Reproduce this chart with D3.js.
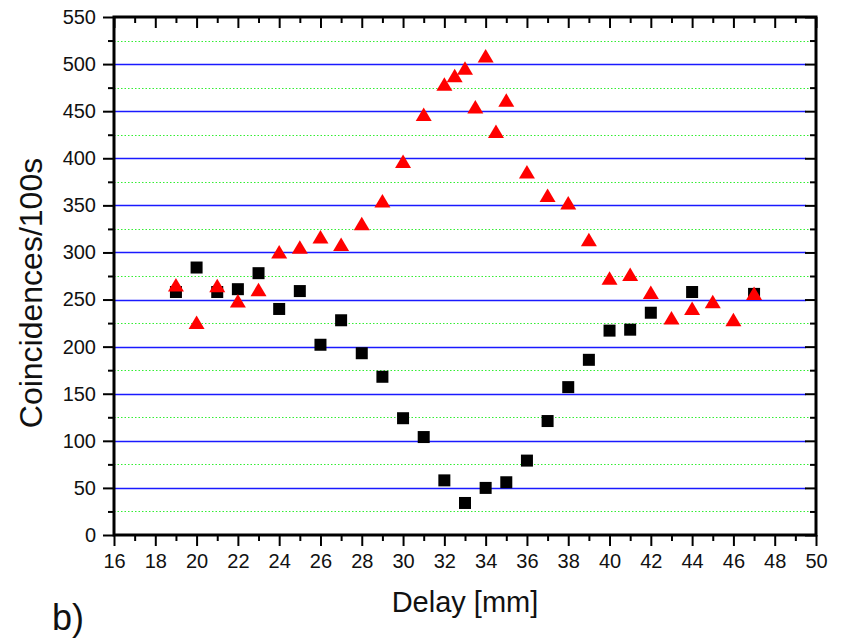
<!DOCTYPE html>
<html>
<head>
<meta charset="utf-8">
<script src="https://cdn.jsdelivr.net/npm/d3@7"></script>
<style>
  body { margin: 0; background: #fff; }
  text { font-family: "Liberation Sans", Arial, sans-serif; }
</style>
</head>
<body>
<div id="chart"></div>
<script>
// data
const squareDelay = [19, 20, 21, 22, 23, 24, 25, 26, 27, 28, 29, 30, 31, 32, 33, 34, 35, 36, 37, 38, 39, 40, 41, 42, 44, 47];
const squareCounts = [258, 284, 258, 261, 278, 240, 259, 202, 228, 193, 168, 124, 104, 58, 34, 50, 56, 79, 121, 157, 186, 217, 218, 236, 258, 256];

const triDelay = [19, 20, 21, 22, 23, 24, 25, 26, 27, 28, 29, 30, 31, 32, 32.5, 33, 33.5, 34, 34.5, 35, 36, 37, 38, 39, 40, 41, 42, 43, 44, 45, 46, 47];
const triCounts = [265, 225, 264, 248, 260, 300, 305, 316, 308, 330, 354, 396, 446, 478, 487, 495, 454, 508, 428, 461, 385, 360, 352, 313, 272, 276, 257, 230, 240, 247, 228, 256];

const xTicks = d3.range(16, 51, 2);
const yTicks = d3.range(0, 551, 50);

const width = 841, height = 639;
const margins = {l: 114, r: 25, t: 17, b: 104};
const w = width - margins.l - margins.r;
const h = height - margins.t - margins.b;

const xScale = d3.scaleLinear().domain([16, 50]).range([0, w]);
const yScale = d3.scaleLinear().domain([0, 550]).range([h, 0]);

const svg = d3.select("#chart").append("svg")
  .attr("width", width).attr("height", height);

const g = svg.append("g").attr("transform", `translate(${margins.l},${margins.t})`);

// grid lines
g.selectAll(".minor-grid").data(d3.range(25, 550, 50)).enter()
  .append("line")
  .attr("x1", 0).attr("x2", w - 6)
  .attr("y1", d => Math.round(yScale(d)) + 0.5).attr("y2", d => Math.round(yScale(d)) + 0.5)
  .attr("stroke", "#33ee33").attr("stroke-width", 1).attr("stroke-dasharray", "1.5,2");

g.selectAll(".major-grid").data(d3.range(50, 550, 50)).enter()
  .append("line")
  .attr("x1", 0).attr("x2", w - 10)
  .attr("y1", d => Math.round(yScale(d)) + 0.5).attr("y2", d => Math.round(yScale(d)) + 0.5)
  .attr("stroke", "#1a1aff").attr("stroke-width", 1.3);

// axes
const xMinor = d3.range(17, 50, 2);
const yMinor = d3.range(25, 550, 50);

function styleAxis(sel){
  sel.select(".domain").remove();
  sel.selectAll("line").attr("stroke", "#000").attr("stroke-width", 2);
  sel.selectAll("text").attr("font-size", "20px").attr("fill", "#111");
}

g.append("g").attr("transform", `translate(0,${h})`)
  .call(d3.axisBottom(xScale).tickValues(xTicks).tickSize(11).tickPadding(8).tickFormat(d3.format("d")))
  .call(styleAxis);
g.append("g").attr("transform", `translate(0,${h})`)
  .call(d3.axisBottom(xScale).tickValues(xMinor).tickSize(6).tickFormat(""))
  .call(styleAxis);

g.append("g")
  .call(d3.axisTop(xScale).tickValues(xTicks).tickSize(-11).tickFormat(""))
  .call(styleAxis);
g.append("g")
  .call(d3.axisTop(xScale).tickValues(xMinor).tickSize(-6).tickFormat(""))
  .call(styleAxis);

g.append("g")
  .call(d3.axisLeft(yScale).tickValues(yTicks).tickSize(11).tickPadding(7).tickFormat(d3.format("d")))
  .call(styleAxis);
g.append("g")
  .call(d3.axisLeft(yScale).tickValues(yMinor).tickSize(6).tickFormat(""))
  .call(styleAxis);

g.append("g").attr("transform", `translate(${w},0)`)
  .call(d3.axisRight(yScale).tickValues(yTicks).tickSize(-11).tickFormat(""))
  .call(styleAxis);
g.append("g").attr("transform", `translate(${w},0)`)
  .call(d3.axisRight(yScale).tickValues(yMinor).tickSize(-6).tickFormat(""))
  .call(styleAxis);

// frame
g.append("rect").attr("x", 0).attr("y", 0).attr("width", w).attr("height", h)
  .attr("fill", "none").attr("stroke", "#000").attr("stroke-width", 3);

// data points
const squares = squareDelay.map((d, i) => ({x: d, y: squareCounts[i]}));
const triangles = triDelay.map((d, i) => ({x: d, y: triCounts[i]}));

g.selectAll(".sq").data(squares).enter()
  .append("rect")
  .attr("x", d => xScale(d.x) - 6).attr("y", d => yScale(d.y) - 6)
  .attr("width", 12).attr("height", 12)
  .attr("fill", "#000");

g.selectAll(".tri").data(triangles).enter()
  .append("path")
  .attr("d", "M0,-7.5L8,6L-8,6Z")
  .attr("transform", d => `translate(${xScale(d.x)},${yScale(d.y)})`)
  .attr("fill", "#ff0000");

// titles
svg.append("text")
  .attr("x", margins.l + w / 2).attr("y", 612)
  .attr("text-anchor", "middle").attr("font-size", "29px").attr("fill", "#111")
  .text("Delay [mm]");

svg.append("text")
  .attr("transform", `translate(42,293) rotate(-90)`)
  .attr("text-anchor", "middle").attr("font-size", "32px").attr("fill", "#111")
  .text("Coincidences/100s");

svg.append("text")
  .attr("x", 52).attr("y", 630)
  .attr("font-size", "36px").attr("fill", "#111")
  .text("b)");
</script>
</body>
</html>
